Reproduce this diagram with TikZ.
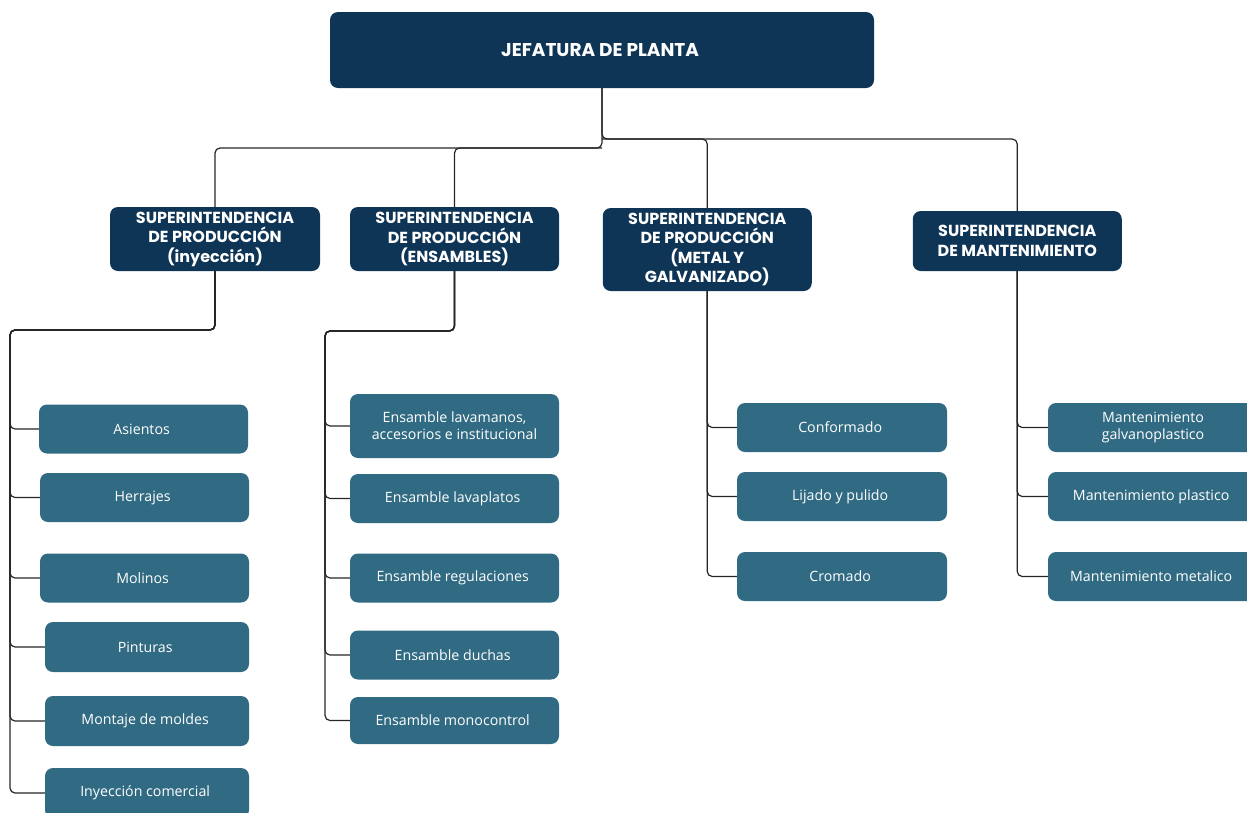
\documentclass[tikz,border=0pt]{standalone}
\usepackage{fontspec}
\setmainfont{Open Sans}
\newfontfamily\headfont{Poppins}
\usetikzlibrary{positioning}
\definecolor{headblue}{HTML}{0F3556}
\definecolor{areateal}{HTML}{316B83}

\begin{document}
\begin{tikzpicture}[x=1pt, y=-1pt,
    every node/.style={
        rectangle,
        rounded corners=8pt,
        inner sep=3pt,
        align=center,
        text=white,
        fill=areateal,
        minimum width=209pt,
        minimum height=49pt,
        font=\fontsize{14.2}{17}\selectfont
    },
    superint/.style={
        fill=headblue,
        minimum height=64pt,
        font=\headfont\bfseries\fontsize{16}{19.5}\selectfont
    },
    link/.style={draw=black!85, line width=1.2pt, rounded corners=5pt}
]
    \useasboundingbox (0, 0) rectangle (1247, 812);

    \node (jefatura) [superint, minimum width=544pt, minimum height=76pt, shift={(602, 50)},
        font=\headfont\bfseries\fontsize{18.5}{22}\selectfont]
    {
        JEFATURA DE PLANTA
    };

    % superintendencias
    \node (sup_iny) [superint, minimum width=210pt, shift={(215, 239)}]
    {
        SUPERINTENDENCIA\\DE PRODUCCIÓN\\(inyección)
    };

    \node (sup_ens) [superint, shift={(454.5, 239)}]
    {
        SUPERINTENDENCIA\\DE PRODUCCIÓN\\(ENSAMBLES)
    };

    \node (sup_metal) [superint, minimum height=83pt, shift={(707.25, 249.5)}]
    {
        SUPERINTENDENCIA\\DE PRODUCCIÓN\\(METAL Y\\GALVANIZADO)
    };

    \node (sup_mant) [superint, minimum height=60pt, shift={(1017.25, 241)}]
    {
        SUPERINTENDENCIA\\DE MANTENIMIENTO
    };

    % inyeccion
    \node (asientos) [shift={(143.5, 429)}]
    {
        Asientos
    };

    \node (herrajes) [shift={(144.5, 497.5)}]
    {
        Herrajes
    };

    \node (molinos) [shift={(144.5, 578)}]
    {
        Molinos
    };

    \node (pinturas) [minimum width=204pt, minimum height=50pt, shift={(147, 647)}]
    {
        Pinturas
    };

    \node (montaje_moldes) [minimum width=204pt, minimum height=50pt, shift={(147, 721)}]
    {
        Montaje de moldes
    };

    \node (inyeccion_comercial) [minimum width=204pt, minimum height=50pt, shift={(147, 793)}]
    {
        Inyección comercial
    };

    % ensambles
    \node (ens_lavamanos) [minimum height=64pt, shift={(454.5, 426)}]
    {
        Ensamble lavamanos,\\accesorios e institucional
    };

    \node (ens_lavaplatos) [shift={(454.5, 498.5)}]
    {
        Ensamble lavaplatos
    };

    \node (ens_regulaciones) [shift={(454.5, 578)}]
    {
        Ensamble regulaciones
    };

    \node (ens_duchas) [shift={(454.5, 655)}]
    {
        Ensamble duchas
    };

    \node (ens_monocontrol) [minimum height=47pt, shift={(454.5, 720.5)}]
    {
        Ensamble monocontrol
    };

    % metal y galvanizado
    \node (conformado) [minimum width=210pt, shift={(842, 427.5)}]
    {
        Conformado
    };

    \node (lijado_pulido) [minimum width=210pt, shift={(842, 496.5)}]
    {
        Lijado y pulido
    };

    \node (cromado) [minimum width=210pt, shift={(842, 576.5)}]
    {
        Cromado
    };

    % mantenimiento
    \node (mant_galvano) [minimum width=210pt, shift={(1153, 427.5)}]
    {
        Mantenimiento\\galvanoplastico
    };

    \node (mant_plastico) [minimum width=210pt, shift={(1153, 496.5)}]
    {
        Mantenimiento plastico
    };

    \node (mant_metalico) [minimum width=210pt, shift={(1153, 576.5)}]
    {
        Mantenimiento metalico
    };

    \coordinate (bus_right) at (602, 139);
    \coordinate (bus_left) at (602, 148);
    \coordinate (spine_iny) at (10, 330);
    \coordinate (spine_ens) at (325, 331);

    \draw[link] (jefatura.south) -- (bus_right) -| (sup_mant.north);
    \draw[link] (bus_right) -| (sup_metal.north);
    \draw[link] (jefatura.south) -- (bus_left) -| (sup_iny.north);
    \draw[link] (bus_left) -| (sup_ens.north);

    \foreach \area in {asientos, herrajes, molinos, pinturas, montaje_moldes, inyeccion_comercial}
        \draw[link] (sup_iny.south) |- (spine_iny) |- (\area.west);

    \foreach \area in {ens_lavamanos, ens_lavaplatos, ens_regulaciones, ens_duchas, ens_monocontrol}
        \draw[link] (sup_ens.south) |- (spine_ens) |- (\area.west);

    \foreach \area in {conformado, lijado_pulido, cromado}
        \draw[link] (sup_metal.south) |- (\area.west);

    \foreach \area in {mant_galvano, mant_plastico, mant_metalico}
        \draw[link] (sup_mant.south) |- (\area.west);
\end{tikzpicture}
\end{document}
